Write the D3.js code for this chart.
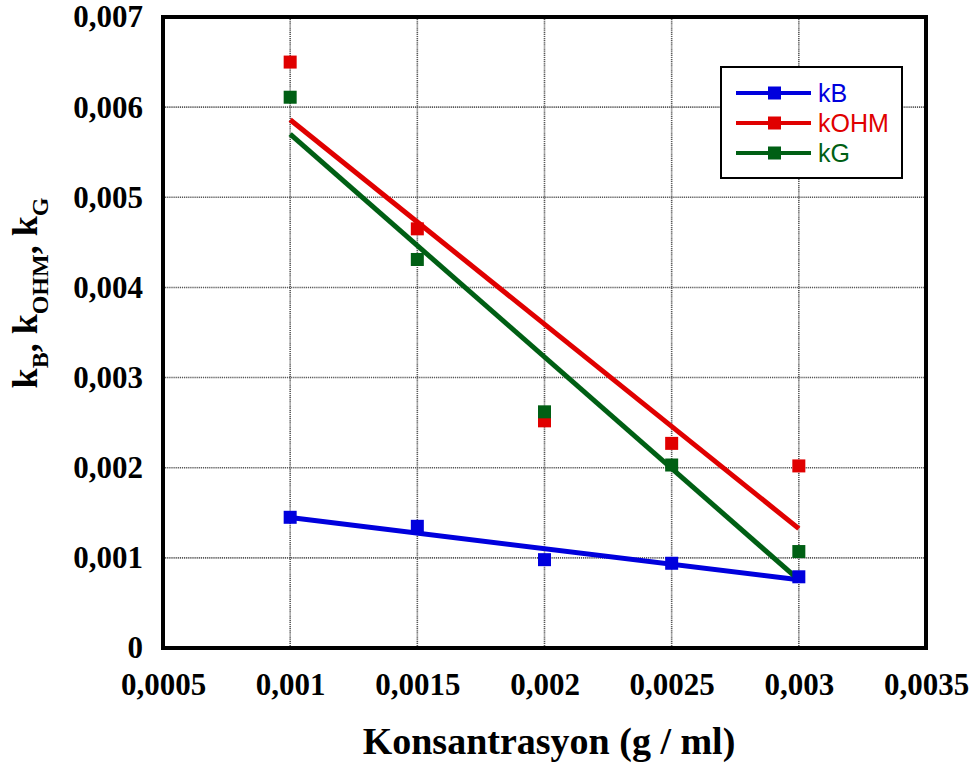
<!DOCTYPE html>
<html>
<head>
<meta charset="utf-8">
<script src="https://cdn.jsdelivr.net/npm/d3@7"></script>
<style>
  html, body { margin: 0; padding: 0; background: #fff; }
  svg { display: block; }
</style>
</head>
<body>
<svg id="chart" width="973" height="765"></svg>
<script>
// Concentration (g/ml) and measured coefficients
const concentrations = [0.001, 0.0015, 0.002, 0.0025, 0.003];
const kB   = [0.00145, 0.00135, 0.00098, 0.00094, 0.00079];
const kOHM = [0.0065, 0.00465, 0.00252, 0.00227, 0.00202];
const kG   = [0.00611, 0.00431, 0.00262, 0.00203, 0.00107];

const xTicks = [0.0005, 0.001, 0.0015, 0.002, 0.0025, 0.003, 0.0035];
const yTicks = [0, 0.001, 0.002, 0.003, 0.004, 0.005, 0.006, 0.007];

const seriesNames  = ["kB", "kOHM", "kG"];
const seriesColors = ["#0000dd", "#e00000", "#005f14"];

const series = [kB, kOHM, kG].map((vals, i) => ({
  name: seriesNames[i], color: seriesColors[i],
  points: concentrations.map((x, j) => ({ x, y: vals[j] }))
}));

// Least-squares straight line through a series
function linearFit(pts) {
  const mx = d3.mean(pts, p => p.x), my = d3.mean(pts, p => p.y);
  const sxy = d3.sum(pts, p => (p.x - mx) * (p.y - my));
  const sxx = d3.sum(pts, p => (p.x - mx) ** 2);
  const b = sxy / sxx, a = my - b * mx;
  return x => a + b * x;
}

const svg = d3.select("#chart");
const plot = { left: 163, top: 17, right: 926, bottom: 648 };

const x = d3.scaleLinear().domain([0.0005, 0.0035]).range([plot.left, plot.right]);
const y = d3.scaleLinear().domain([0, 0.007]).range([plot.bottom, plot.top]);

const fmt = v => v === 0 ? "0" : String(+v.toPrecision(3)).replace(".", ",");

// Dotted grid
const grid = svg.append("g");
grid.selectAll("line.gx").data(xTicks.slice(1, -1)).join("line")
  .attr("x1", d => x(d)).attr("x2", d => x(d))
  .attr("y1", plot.top).attr("y2", plot.bottom)
  .attr("stroke", "#555").attr("stroke-width", 1.6).attr("stroke-dasharray", "1.2,0.9");
grid.selectAll("line.gy").data(yTicks.slice(1, -1)).join("line")
  .attr("y1", d => y(d)).attr("y2", d => y(d))
  .attr("x1", plot.left).attr("x2", plot.right)
  .attr("stroke", "#555").attr("stroke-width", 1.6).attr("stroke-dasharray", "1.2,0.9");

// Axes (labels only; frame drawn separately)
const tickFont = "'Liberation Serif', 'Times New Roman', serif";
const xAxis = svg.append("g").attr("transform", `translate(0,${plot.bottom})`)
  .call(d3.axisBottom(x).tickValues(xTicks).tickFormat(fmt).tickSize(0).tickPadding(25));
const yAxis = svg.append("g").attr("transform", `translate(${plot.left},0)`)
  .call(d3.axisLeft(y).tickValues(yTicks).tickFormat(fmt).tickSize(0).tickPadding(20));
[xAxis, yAxis].forEach(g => {
  g.select(".domain").remove();
  g.selectAll("text").attr("font-family", tickFont).attr("font-weight", "bold")
    .attr("font-size", 31).attr("fill", "#000");
});

// Trend lines
const lines = svg.append("g");
series.forEach(s => {
  const f = linearFit(s.points);
  const x0 = d3.min(concentrations), x1 = d3.max(concentrations);
  lines.append("line")
    .attr("x1", x(x0)).attr("y1", y(f(x0)))
    .attr("x2", x(x1)).attr("y2", y(f(x1)))
    .attr("stroke", s.color).attr("stroke-width", 5);
});

// Data markers
const ms = 13;
series.forEach(s => {
  svg.append("g").selectAll("rect").data(s.points).join("rect")
    .attr("x", d => x(d.x) - ms / 2).attr("y", d => y(d.y) - ms / 2)
    .attr("width", ms).attr("height", ms).attr("fill", s.color);
});

// Plot frame
svg.append("rect")
  .attr("x", plot.left).attr("y", plot.top)
  .attr("width", plot.right - plot.left).attr("height", plot.bottom - plot.top)
  .attr("fill", "none").attr("stroke", "#000").attr("stroke-width", 4);

// Legend
const lg = svg.append("g").attr("transform", "translate(721,67)");
lg.append("rect").attr("width", 181).attr("height", 111)
  .attr("fill", "#fff").attr("stroke", "#000").attr("stroke-width", 2);
series.forEach((s, i) => {
  const cy = 26 + i * 30;
  lg.append("line").attr("x1", 15).attr("x2", 90).attr("y1", cy).attr("y2", cy)
    .attr("stroke", s.color).attr("stroke-width", 4);
  lg.append("rect").attr("x", 47).attr("y", cy - 6.5).attr("width", 13).attr("height", 13)
    .attr("fill", s.color);
  lg.append("text").attr("x", 97).attr("y", cy + 9)
    .attr("font-family", "'Liberation Sans', Arial, sans-serif").attr("font-size", 25)
    .attr("fill", s.color).text(s.name);
});

// Axis titles
svg.append("text")
  .attr("x", 549).attr("y", 754)
  .attr("text-anchor", "middle")
  .attr("font-family", tickFont).attr("font-weight", "bold").attr("font-size", 38)
  .text("Konsantrasyon (g / ml)");

const yt = svg.append("text")
  .attr("transform", "translate(37,293) rotate(-90)")
  .attr("text-anchor", "middle")
  .attr("font-family", tickFont).attr("font-weight", "bold").attr("font-size", 36);
const parts = [["k", 0], ["B", 1], [", k", 0], ["OHM", 1], [", k", 0], ["G", 1]];
parts.forEach(([t, sub], i) => {
  yt.append("tspan").text(t)
    .attr("font-size", sub ? 24 : 36)
    .attr("dy", i === 0 ? 0 : (sub ? 11 : -11));
});
</script>
</body>
</html>
